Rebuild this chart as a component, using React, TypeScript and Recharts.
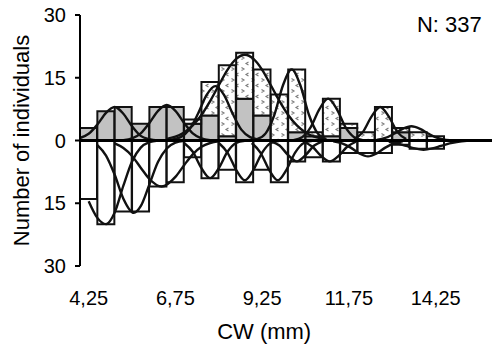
import React from "react";
import { ComposedChart, Bar, Line, XAxis, YAxis, ReferenceLine } from "recharts";

const FONT = "'Liberation Sans', Arial, Helvetica, sans-serif";

// 0.5 mm carapace-width classes (class centres)
const binLabels = [
  "4,25", "4,75", "5,25", "5,75", "6,25", "6,75", "7,25", "7,75",
  "8,25", "8,75", "9,25", "9,75", "10,25", "10,75", "11,25", "11,75",
  "12,25", "12,75", "13,25", "13,75", "14,25", "14,75", "15,25", "15,75",
];

// upper half: two stacked groups
const upperGray = [3, 7, 8, 4, 8, 8, 4, 6, 1, 10, 6, 0, 2, 1, 1, 3, 0, 0, 2, 0, 0, 0, 0, 0];
const upperDotted = [0, 0, 0, 0, 0, 0, 1, 8, 17, 11, 11, 11, 15, 1, 9, 1, 2, 8, 1, 2, 1, 0, 0, 0];
// lower half (drawn downwards)
const lowerCounts = [14, 20, 17, 17, 11, 10, 4, 9, 7, 10, 7, 10, 5, 4, 5, 3, 3, 3, 1, 2, 2, 0, 0, 0];

const yTicks = [-30, -15, 0, 15, 30];

// fitted component curves, [CW mm, individuals]
const upperCurve1: [number, number][] = [[4.0, 0.6], [4.25, 1.6], [4.5, 3.8], [4.75, 6.6], [5.0, 8], [5.25, 6.4], [5.5, 3.4], [5.75, 1.1], [6.0, 0.3], [6.25, 0]];
const upperCurve2: [number, number][] = [[5.25, 0.1], [5.5, 0.5], [5.75, 1.7], [6.0, 4.2], [6.25, 7.1], [6.5, 8.5], [6.75, 7.1], [7.0, 4.2], [7.25, 1.7], [7.5, 0.5], [7.75, 0.1]];
const upperCurve3: [number, number][] = [[6.65, 0.2], [6.9, 0.8], [7.15, 2.6], [7.4, 6.4], [7.65, 10.9], [7.9, 13], [8.15, 10.9], [8.4, 6.4], [8.65, 2.6], [8.9, 0.8], [9.15, 0.2]];
const upperCurve4: [number, number][] = [[6.5, 0.4], [6.75, 0.9], [7.0, 1.9], [7.25, 3.6], [7.5, 6.1], [7.75, 9.4], [8.0, 13.2], [8.25, 16.9], [8.5, 19.5], [8.75, 20.5], [9.0, 19.5], [9.25, 16.9], [9.5, 13.2], [9.75, 9.4], [10.0, 6.1], [10.25, 3.6], [10.5, 1.9], [10.75, 0.9], [11.0, 0.4]];
const upperCurve5: [number, number][] = [[9.1, 0.3], [9.35, 1.7], [9.6, 6.1], [9.85, 13.2], [10.1, 17], [10.35, 13.2], [10.6, 6.1], [10.85, 1.7], [11.1, 0.3]];
const upperCurve6: [number, number][] = [[10.15, 0.1], [10.4, 0.8], [10.65, 3.2], [10.9, 7.5], [11.15, 10], [11.4, 7.5], [11.65, 3.2], [11.9, 0.8], [12.15, 0.1]];
const upperCurve7: [number, number][] = [[11.9, 0.35], [12.15, 2], [12.4, 5.7], [12.65, 8], [12.9, 5.7], [13.15, 2], [13.4, 0.35]];
const upperCurve8: [number, number][] = [[12.55, 0.15], [12.8, 0.6], [13.05, 1.6], [13.3, 2.8], [13.55, 3.4], [13.8, 2.8], [14.05, 1.6], [14.3, 0.6], [14.55, 0.15], [14.8, 0]];

const lowerCurve1: [number, number][] = [[4.25, 14.5], [4.5, 18.5], [4.75, 20], [5.0, 17.2], [5.25, 10.8], [5.5, 5], [5.75, 1.7], [6.0, 0.4], [6.25, 0]];
const lowerCurve2: [number, number][] = [[4.5, 1.1], [4.75, 3.6], [5.0, 8.2], [5.25, 13.9], [5.55, 17.3], [5.75, 15.7], [6.0, 10.5], [6.25, 5.1], [6.5, 1.9], [6.75, 0.5], [7.0, 0.1]];
const lowerCurve3: [number, number][] = [[5.0, 0.7], [5.25, 1.8], [5.5, 3.7], [5.75, 6.5], [6.0, 9.2], [6.35, 11], [6.75, 8.7], [7.0, 5.9], [7.25, 3.3], [7.5, 1.5], [7.75, 0.6], [8.0, 0.2]];
const lowerCurve4: [number, number][] = [[7.0, 0.6], [7.25, 2.7], [7.5, 6.6], [7.75, 9], [8.0, 6.6], [8.25, 2.7], [8.5, 0.6], [8.75, 0.1]];
const lowerCurve5: [number, number][] = [[8.0, 0.6], [8.25, 2.9], [8.5, 7.0], [8.75, 9.5], [9.0, 7.0], [9.25, 2.9], [9.5, 0.6], [9.75, 0.1]];
const lowerCurve6: [number, number][] = [[8.95, 0.6], [9.2, 2.9], [9.45, 7.0], [9.7, 9.5], [9.95, 7.0], [10.2, 2.9], [10.45, 0.6], [10.7, 0.1]];
const lowerCurve7: [number, number][] = [[9.5, 0.2], [9.75, 1.2], [10.0, 3.5], [10.25, 5], [10.5, 3.5], [10.75, 1.2], [11.0, 0.2]];
const lowerCurve8: [number, number][] = [[10.45, 0.3], [10.7, 1.5], [10.95, 3.7], [11.2, 5], [11.45, 3.7], [11.7, 1.5], [11.95, 0.3]];
const lowerCurve9: [number, number][] = [[11.3, 0.2], [11.55, 0.7], [11.8, 1.7], [12.05, 3.1], [12.3, 3.8], [12.55, 3.1], [12.8, 1.7], [13.05, 0.7], [13.3, 0.2]];
const lowerCurve10: [number, number][] = [[12.9, 0.3], [13.15, 0.7], [13.4, 1.3], [13.65, 1.9], [13.9, 2.2], [14.15, 1.9], [14.4, 1.3], [14.65, 0.7], [14.9, 0.3], [15.15, 0.1]];

const upperCurves = [upperCurve1, upperCurve2, upperCurve3, upperCurve4, upperCurve5, upperCurve6, upperCurve7, upperCurve8];
const lowerCurves = [lowerCurve1, lowerCurve2, lowerCurve3, lowerCurve4, lowerCurve5, lowerCurve6, lowerCurve7, lowerCurve8, lowerCurve9, lowerCurve10];

const barData = binLabels.map((label, i) => ({
  label,
  gray: upperGray[i],
  dotted: upperDotted[i],
  lower: -lowerCounts[i],
}));

const toUp = (c: [number, number][]) => c.map(([x, y]) => ({ x, y }));
const toDown = (c: [number, number][]) => c.map(([x, y]) => ({ x, y: -y }));

const STROKE = "#111";

export default function App() {
  return (
    <div style={{ position: "absolute", left: 0, top: 0, width: 492, height: 347, overflow: "hidden", background: "#fff" }}>
      <ComposedChart
        width={496.4}
        height={347}
        data={barData}
        stackOffset="sign"
        barCategoryGap={0}
        barGap={0}
        margin={{ top: 15, right: 0, bottom: 0, left: 8 }}
      >
        <defs>
          <pattern id="dotFill" width="10" height="11" patternUnits="userSpaceOnUse">
            <rect x="0" y="0" width="10" height="11" fill="#ffffff" />
            <path d="M1.5 1.5 L4 3 L1.5 4.5" stroke="#7a7a7a" strokeWidth="1.1" fill="none" />
            <path d="M8.5 7 L6 8.5 L8.5 10" stroke="#7a7a7a" strokeWidth="1.1" fill="none" />
          </pattern>
        </defs>
        <XAxis
          dataKey="label"
          interval={4}
          axisLine={false}
          tickLine={false}
          tickSize={0}
          tickMargin={25}
          height={81}
          tick={{ fontSize: 20, fill: "#000", fontFamily: FONT }}
          label={{
            value: "CW (mm)",
            position: "insideBottom",
            offset: 8,
            dx: -24,
            style: { fontSize: 22, fill: "#000", fontFamily: FONT },
          }}
        />
        <XAxis xAxisId="c" type="number" dataKey="x" domain={[4, 16]} allowDataOverflow hide />
        <YAxis
          type="number"
          domain={[-30, 30]}
          allowDataOverflow
          ticks={yTicks}
          interval={0}
          tickFormatter={(v: number) => String(Math.abs(v))}
          width={72}
          tickSize={5}
          tickMargin={9}
          axisLine={{ stroke: "#000", strokeWidth: 2 }}
          tickLine={{ stroke: "#000", strokeWidth: 2 }}
          tick={{ fontSize: 20, fill: "#000", fontFamily: FONT }}
          label={{
            value: "Number of individuals",
            angle: -90,
            position: "insideLeft",
            offset: 13,
            style: { textAnchor: "middle", fontSize: 22, fill: "#000", fontFamily: FONT },
          }}
        />
        <Bar dataKey="gray" stackId="s" fill="#c2c2c2" stroke={STROKE} strokeWidth={2} isAnimationActive={false} />
        <Bar dataKey="dotted" stackId="s" fill="url(#dotFill)" stroke={STROKE} strokeWidth={2} isAnimationActive={false} />
        <Bar dataKey="lower" stackId="s" fill="#ffffff" stroke={STROKE} strokeWidth={2} isAnimationActive={false} />
        {upperCurves.map((c, i) => (
          <Line
            key={"u" + i}
            xAxisId="c"
            data={toUp(c)}
            dataKey="y"
            type="monotone"
            stroke={STROKE}
            strokeWidth={2.4}
            dot={false}
            activeDot={false}
            isAnimationActive={false}
          />
        ))}
        {lowerCurves.map((c, i) => (
          <Line
            key={"l" + i}
            xAxisId="c"
            data={toDown(c)}
            dataKey="y"
            type="monotone"
            stroke={STROKE}
            strokeWidth={2.4}
            dot={false}
            activeDot={false}
            isAnimationActive={false}
          />
        ))}
        <ReferenceLine y={0} stroke="#000" strokeWidth={3} />
        <text x={417} y={32} fontSize={22} fill="#000" fontFamily={FONT}>
          N: 337
        </text>
      </ComposedChart>
    </div>
  );
}
